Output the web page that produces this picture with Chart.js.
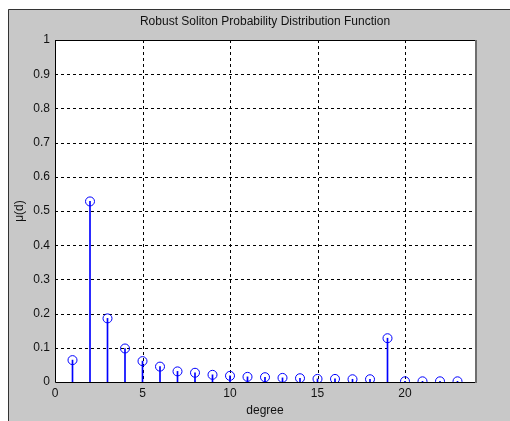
<!DOCTYPE html>
<html>
<head>
<meta charset="utf-8">
<script src="https://cdn.jsdelivr.net/npm/chart.js@4"></script>
<style>
  html, body { margin: 0; padding: 0; background: #ffffff; }
  #wrap { width: 510px; height: 421px; }
</style>
</head>
<body>
<div id="wrap"><canvas id="stemChart" width="510" height="421"></canvas></div>
<script>
// degree d and robust soliton probability mu(d)
const degrees = [1, 2, 3, 4, 5, 6, 7, 8, 9, 10, 11, 12, 13, 14, 15, 16, 17, 18, 19, 20, 21, 22, 23];
const muValues = [0.064, 0.528, 0.186, 0.098, 0.061, 0.045, 0.031, 0.027, 0.021, 0.018, 0.015,
  0.014, 0.012, 0.011, 0.009, 0.009, 0.008, 0.008, 0.128, 0.002, 0.002, 0.002, 0.002];
const xTicks = [0, 5, 10, 15, 20];
const yTicks = [0, 0.1, 0.2, 0.3, 0.4, 0.5, 0.6, 0.7, 0.8, 0.9, 1];
const chartTitle = "Robust Soliton Probability Distribution Function";

const points = degrees.map((d, i) => ({ x: d, y: muValues[i] }));

// grey figure window, white axes box and dashed matlab style grid
const matlabFrame = {
  id: "matlabFrame",
  beforeDraw(chart) {
    const ctx = chart.ctx;
    ctx.save();
    ctx.fillStyle = "#ffffff";
    ctx.fillRect(0, 0, chart.width, chart.height);
    ctx.fillStyle = "#c8c8c8";
    ctx.fillRect(8, 9, chart.width - 8, chart.height - 9);
    ctx.strokeStyle = "#333333";
    ctx.lineWidth = 1;
    ctx.beginPath();
    ctx.moveTo(8.5, chart.height);
    ctx.lineTo(8.5, 9.5);
    ctx.lineTo(chart.width, 9.5);
    ctx.stroke();
    ctx.restore();
  },
  beforeDatasetsDraw(chart) {
    const ctx = chart.ctx;
    const a = chart.chartArea;
    const xs = chart.scales.x, ys = chart.scales.y;
    ctx.save();
    ctx.fillStyle = "#ffffff";
    ctx.fillRect(a.left, a.top, a.right - a.left, a.bottom - a.top);
    ctx.strokeStyle = "#000000";
    ctx.lineWidth = 1;
    ctx.setLineDash([3, 3]);
    ctx.beginPath();
    xTicks.forEach(v => {
      const px = Math.round(xs.getPixelForValue(v)) + 0.5;
      if (px > a.left + 2 && px < a.right - 2) {
        ctx.moveTo(px, a.top);
        ctx.lineTo(px, a.bottom);
      }
    });
    yTicks.forEach(v => {
      const py = Math.round(ys.getPixelForValue(v)) + 0.5;
      if (py > a.top + 2 && py < a.bottom - 2) {
        ctx.moveTo(a.left, py);
        ctx.lineTo(a.right, py);
      }
    });
    ctx.stroke();
    ctx.setLineDash([]);
    ctx.restore();
  },
  afterDraw(chart) {
    const ctx = chart.ctx;
    const a = chart.chartArea;
    ctx.save();
    ctx.lineWidth = 1;
    ctx.strokeStyle = "#000000";
    ctx.beginPath();
    ctx.moveTo(a.left + 0.5, a.top + 0.5);
    ctx.lineTo(a.right, a.top + 0.5);
    ctx.moveTo(a.left + 0.5, a.top);
    ctx.lineTo(a.left + 0.5, a.bottom + 0.5);
    ctx.lineTo(a.right + 1, a.bottom + 0.5);
    ctx.stroke();
    ctx.strokeStyle = "#6e6e6e";
    ctx.lineWidth = 2;
    ctx.beginPath();
    ctx.moveTo(a.right + 1, a.top);
    ctx.lineTo(a.right + 1, a.bottom + 1);
    ctx.stroke();
    // title centred over the axes box
    ctx.fillStyle = "#111111";
    ctx.font = "12px Arial, 'Liberation Sans'";
    ctx.textAlign = "center";
    ctx.textBaseline = "middle";
    ctx.fillText(chartTitle, (a.left + a.right) / 2, 22);
    ctx.restore();
  }
};

const ctx = document.getElementById("stemChart").getContext("2d");
new Chart(ctx, {
  data: {
    datasets: [
      {
        type: "scatter",
        data: points,
        showLine: false,
        pointStyle: "circle",
        pointRadius: 4.5,
        pointBorderWidth: 1,
        pointBorderColor: "#0000ff",
        pointBackgroundColor: "rgba(0,0,0,0)",
        order: 1
      },
      {
        type: "bar",
        data: points,
        backgroundColor: "#0000ff",
        barThickness: 1,
        order: 2
      }
    ]
  },
  options: {
    responsive: false,
    animation: false,
    layout: { padding: { left: 0, right: 35, top: 40, bottom: 0 } },
    plugins: {
      legend: { display: false },
      tooltip: { enabled: false }
    },
    scales: {
      x: {
        type: "linear",
        offset: false,
        min: 0,
        max: 24,
        afterBuildTicks: s => { s.ticks = xTicks.map(v => ({ value: v })); },
        afterFit: s => { s.height = 39; },
        grid: { display: false, drawTicks: false, tickLength: 0 },
        border: { display: false },
        ticks: {
          color: "#111111",
          padding: 4,
          maxRotation: 0,
          font: { family: "Arial, Liberation Sans", size: 12 }
        },
        title: {
          display: true,
          text: "degree",
          color: "#111111",
          padding: { top: 2, bottom: 3 },
          font: { family: "Arial, Liberation Sans", size: 12 }
        }
      },
      y: {
        min: 0,
        max: 1,
        afterBuildTicks: s => { s.ticks = yTicks.map(v => ({ value: v })); },
        afterFit: s => { s.width = 55; },
        grid: { display: false, drawTicks: false, tickLength: 0 },
        border: { display: false },
        ticks: {
          color: "#111111",
          padding: 5,
          font: { family: "Arial, Liberation Sans", size: 12 },
          callback: v => String(Math.round(v * 10) / 10)
        },
        title: {
          display: true,
          text: "μ(d)",
          color: "#111111",
          padding: { top: 12, bottom: 0 },
          font: { family: "Arial, Liberation Sans", size: 12 }
        }
      }
    }
  },
  plugins: [matlabFrame]
});
</script>
</body>
</html>
